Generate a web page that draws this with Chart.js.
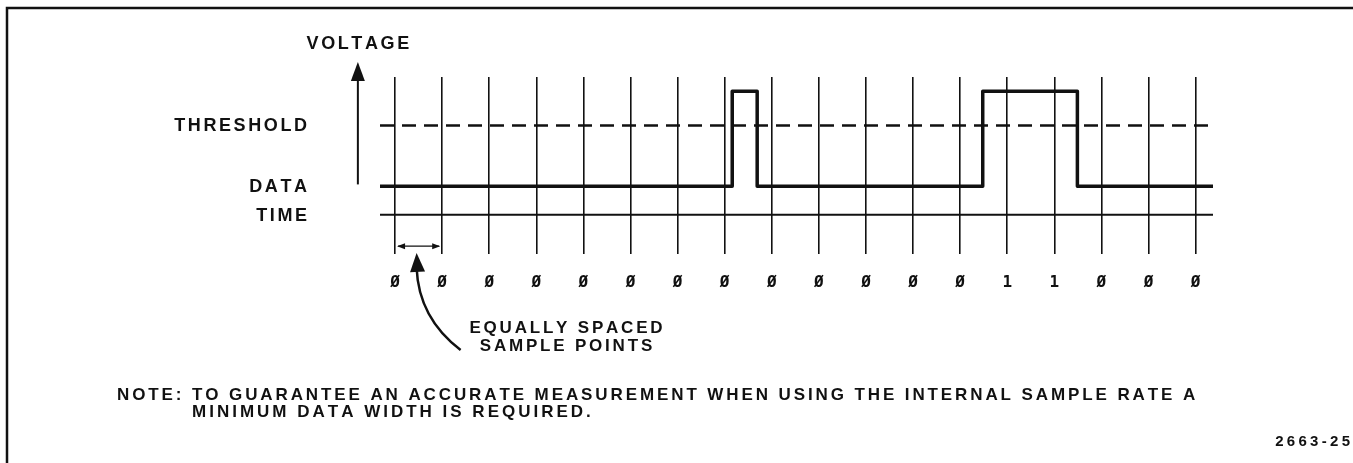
<!DOCTYPE html>
<html>
<head>
<meta charset="utf-8">
<script src="https://cdn.jsdelivr.net/npm/chart.js@4.4.1/dist/chart.umd.min.js"></script>
<style>
  html, body { margin: 0; padding: 0; background: #fff; }
</style>
</head>
<body>
<canvas id="grafico" width="1353" height="463"></canvas>
<script>
// pontos de amostragem (uma linha vertical por amostra)
const amostras = [0, 1, 2, 3, 4, 5, 6, 7, 8, 9, 10, 11, 12, 13, 14, 15, 16, 17];
// valor lido em cada amostra
const bits = [0, 0, 0, 0, 0, 0, 0, 0, 0, 0, 0, 0, 0, 1, 1, 0, 0, 0];

// sinal DATA (em unidades de amostra / nivel)
const sinalX = [-0.32, 7.16, 7.16, 7.69, 7.69, 12.48, 12.48, 14.49, 14.49, 17.37];
const sinalY = [0, 0, 1, 1, 0, 0, 1, 1, 0, 0];

const limiar = 0.64;   // THRESHOLD
const tempo = -0.30;   // TIME
const xMin = -0.32, xMax = 17.37;
const yMin = -0.71, yMax = 1.15;

const rotulos = ['THRESHOLD', 'DATA', 'TIME'];
const rotulosY = [limiar, 0, tempo];
const tituloY = 'VOLTAGE';
const legenda = ['EQUALLY SPACED', 'SAMPLE POINTS'];
const nota = ['NOTE: TO GUARANTEE AN ACCURATE MEASUREMENT WHEN USING THE INTERNAL SAMPLE RATE A',
              'MINIMUM DATA WIDTH IS REQUIRED.'];
const figura = '2663-25';

const preto = '#111';
const fonte = '"Liberation Sans", Arial, sans-serif';

// texto com espaçamento entre letras
function textoEspacado(ctx, txt, x, y, esp, alinh) {
  const chars = [...txt];
  const w = chars.map(c => ctx.measureText(c).width);
  const total = w.reduce((a, b) => a + b, 0) + esp * (chars.length - 1);
  let x0 = x;
  if (alinh === 'right') x0 = x - total;
  if (alinh === 'center') x0 = x - total / 2;
  ctx.textAlign = 'left';
  ctx.textBaseline = 'middle';
  chars.forEach((c, i) => {
    ctx.fillText(c, x0, y);
    x0 += w[i] + esp;
  });
}

function ponta(ctx, x, y, ang, comp, larg) {
  ctx.save();
  ctx.translate(x, y);
  ctx.rotate(ang);
  ctx.beginPath();
  ctx.moveTo(0, 0);
  ctx.lineTo(-comp, -larg);
  ctx.lineTo(-comp, larg);
  ctx.closePath();
  ctx.fill();
  ctx.restore();
}

const desenhos = {
  id: 'desenhos',
  afterDraw(chart) {
    const ctx = chart.ctx;
    const xs = chart.scales.x, ys = chart.scales.y;
    ctx.save();
    ctx.fillStyle = preto;
    ctx.strokeStyle = preto;

    // moldura (topo e esquerda)
    ctx.lineWidth = 2.5;
    ctx.beginPath();
    ctx.moveTo(7, 463);
    ctx.lineTo(7, 8);
    ctx.lineTo(1353, 8);
    ctx.stroke();

    // seta VOLTAGE
    const xv = xs.getPixelForValue(-0.79);
    ctx.lineWidth = 2;
    ctx.beginPath();
    ctx.moveTo(xv, ys.getPixelForValue(0.02));
    ctx.lineTo(xv, 78);
    ctx.stroke();
    ponta(ctx, xv, 62, -Math.PI / 2, 19, 7);

    ctx.font = 'bold 18px ' + fonte;
    textoEspacado(ctx, tituloY, xv, 44, 2.6, 'center');
    rotulos.forEach((r, i) => {
      textoEspacado(ctx, r, 307, ys.getPixelForValue(rotulosY[i]) + 1, 2.6, 'right');
    });

    // intervalo entre amostras
    const x0 = xs.getPixelForValue(amostras[0]), x1 = xs.getPixelForValue(amostras[1]);
    const ya = ys.getPixelForValue(-0.63);
    ctx.lineWidth = 1.2;
    ctx.beginPath();
    ctx.moveTo(x0 + 3, ya);
    ctx.lineTo(x1 - 3, ya);
    ctx.stroke();
    ponta(ctx, x0 + 2, ya, Math.PI, 8, 3);
    ponta(ctx, x1 - 2, ya, 0, 8, 3);

    // seta curva
    const xc = (x0 + x1) / 2 - 2;
    ctx.lineWidth = 2.5;
    ctx.beginPath();
    ctx.moveTo(xc + 44, 350);
    ctx.quadraticCurveTo(xc + 2, 318, xc, 268);
    ctx.stroke();
    ponta(ctx, xc, 253, -Math.PI / 2 - 0.05, 19, 7.5);

    ctx.font = 'bold 17px ' + fonte;
    textoEspacado(ctx, legenda[0], 566, 328, 2.8, 'center');
    textoEspacado(ctx, legenda[1], 566, 346, 2.8, 'center');

    textoEspacado(ctx, nota[0], 117, 395, 2.9, 'left');
    textoEspacado(ctx, nota[1], 192, 412, 3.0, 'left');

    ctx.font = 'bold 15px ' + fonte;
    textoEspacado(ctx, figura, 1350, 442, 3.3, 'right');
    ctx.restore();
  }
};

new Chart(document.getElementById('grafico'), {
  type: 'line',
  data: {
    datasets: [
      {
        label: 'THRESHOLD',
        data: [{ x: xMin, y: limiar }, { x: xMax, y: limiar }],
        borderColor: preto,
        borderWidth: 2.5,
        borderDash: [14, 8],
        pointRadius: 0
      },
      {
        label: 'TIME',
        data: [{ x: xMin, y: tempo }, { x: xMax, y: tempo }],
        borderColor: preto,
        borderWidth: 2,
        pointRadius: 0
      },
      {
        label: 'DATA',
        data: sinalX.map((x, i) => ({ x: x, y: sinalY[i] })),
        borderColor: preto,
        borderWidth: 3.5,
        borderJoinStyle: 'round',
        pointRadius: 0,
        tension: 0
      }
    ]
  },
  options: {
    responsive: false,
    animation: false,
    events: [],
    layout: { padding: { left: 380, right: 140, top: 77, bottom: 152 } },
    plugins: { legend: { display: false }, tooltip: { enabled: false } },
    scales: {
      x: {
        type: 'linear',
        min: xMin,
        max: xMax,
        afterBuildTicks: s => { s.ticks = amostras.map(v => ({ value: v })); },
        grid: { color: preto, lineWidth: 1.6, drawTicks: false },
        border: { display: false },
        ticks: {
          padding: 19,
          color: preto,
          autoSkip: false,
          maxRotation: 0,
          font: { family: '"DejaVu Sans Mono", monospace', weight: 'bold', size: 16 },
          callback: (v, i) => bits[i] === 1 ? '1' : '\u00D8'
        }
      },
      y: { display: false, min: yMin, max: yMax }
    }
  },
  plugins: [desenhos]
});
</script>
</body>
</html>
